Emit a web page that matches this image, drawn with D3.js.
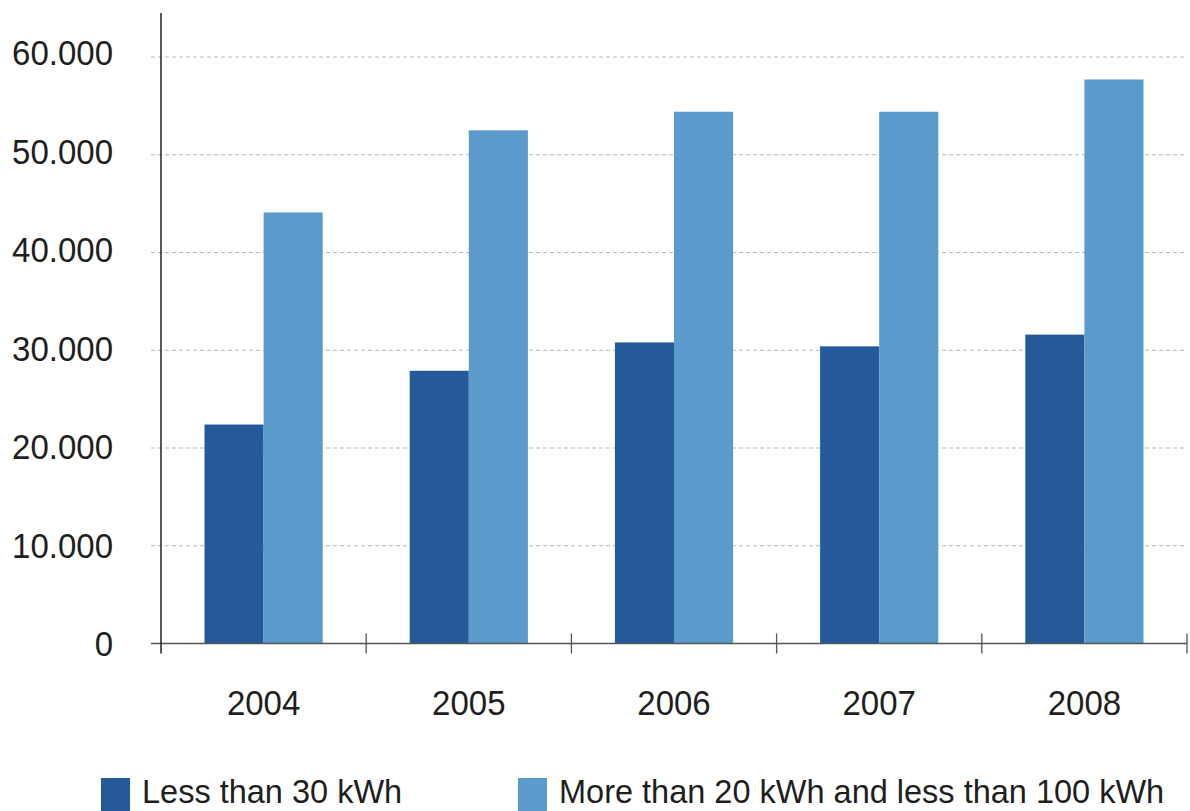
<!DOCTYPE html>
<html>
<head>
<meta charset="utf-8">
<script src="https://cdn.jsdelivr.net/npm/d3@7/dist/d3.min.js"></script>
<style>
  html, body { margin: 0; padding: 0; background: #ffffff; }
  svg { display: block; }
  text { font-family: "Liberation Sans", Arial, sans-serif; fill: #1e1e1e; }
</style>
</head>
<body>
<svg id="chart" width="1190" height="811"></svg>
<script>
// Data
const years = ["2004", "2005", "2006", "2007", "2008"];
const seriesNames = ["Less than 30 kWh", "More than 20 kWh and less than 100 kWh"];
const lessThan30 = [22400, 27900, 30800, 30400, 31600];
const from20To100 = [44100, 52500, 54400, 54400, 57700];
const yTicks = [0, 10000, 20000, 30000, 40000, 50000, 60000];
const seriesColors = ["#245a99", "#5b9bcc"];

const seriesValues = [lessThan30, from20To100];

const svg = d3.select("#chart");
const W = 1190, H = 811;
svg.append("rect").attr("width", W).attr("height", H).attr("fill", "#ffffff");

const plot = { left: 161, right: 1187, top: 13, bottom: 643.5 };

const x0 = d3.scaleBand().domain(years).range([plot.left, plot.right]).padding(0);
const bw = x0.bandwidth();
const groupPad = bw * 0.212;
const x1 = d3.scaleBand().domain(d3.range(seriesNames.length)).range([groupPad, bw - groupPad]).padding(0);
const y = d3.scaleLinear().domain([0, 60000]).range([plot.bottom, 57]);

// dashed gridlines
svg.append("g")
  .selectAll("line")
  .data(yTicks.filter(d => d > 0))
  .join("line")
  .attr("x1", 151).attr("x2", plot.right)
  .attr("y1", d => y(d)).attr("y2", d => y(d))
  .attr("stroke", "#b9b9b9")
  .attr("stroke-width", 1)
  .attr("stroke-dasharray", "4,3");

// bars
const groups = svg.append("g")
  .selectAll("g")
  .data(years)
  .join("g")
  .attr("transform", d => `translate(${x0(d)},0)`);

groups.selectAll("rect")
  .data((yr, i) => seriesValues.map((vals, s) => ({ s, v: vals[i] })))
  .join("rect")
  .attr("x", d => x1(d.s))
  .attr("width", x1.bandwidth())
  .attr("y", d => y(d.v))
  .attr("height", d => y(0) - y(d.v))
  .attr("fill", d => seriesColors[d.s]);

// x axis line with ticks at band boundaries
svg.append("line")
  .attr("x1", 151).attr("x2", plot.right)
  .attr("y1", plot.bottom).attr("y2", plot.bottom)
  .attr("stroke", "#555555").attr("stroke-width", 1.3);

const boundaries = years.map(d => x0(d)).concat([plot.right]);
svg.append("g")
  .selectAll("line")
  .data(boundaries.slice(1))
  .join("line")
  .attr("x1", d => d).attr("x2", d => d)
  .attr("y1", plot.bottom - 10).attr("y2", plot.bottom + 10)
  .attr("stroke", "#555555").attr("stroke-width", 1.3);

// y axis line
svg.append("line")
  .attr("x1", plot.left).attr("x2", plot.left)
  .attr("y1", plot.top).attr("y2", plot.bottom + 10)
  .attr("stroke", "#222222").attr("stroke-width", 1.5);

// y tick labels
const fmt = d => d === 0 ? "0" : d3.format(",")(d).replace(/,/g, ".");
svg.append("g")
  .selectAll("text")
  .data(yTicks)
  .join("text")
  .attr("transform", d => `translate(113,${y(d) - (d / 60000) * 4.5 + 12.5}) scale(1,1.06)`)
  .attr("text-anchor", "end")
  .attr("font-size", 33)
  .text(fmt);

// x tick labels
svg.append("g")
  .selectAll("text")
  .data(years)
  .join("text")
  .attr("transform", d => `translate(${x0(d) + bw / 2},715) scale(1,1.06)`)
  .attr("text-anchor", "middle")
  .attr("font-size", 33)
  .text(d => d);

// legend
const legendX = [101, 518];
const legend = svg.append("g")
  .selectAll("g")
  .data(seriesNames)
  .join("g")
  .attr("transform", (d, i) => `translate(${legendX[i]},778)`);
legend.append("rect")
  .attr("width", 29).attr("height", 33)
  .attr("fill", (d, i) => seriesColors[i]);
legend.append("text")
  .attr("x", 41)
  .attr("y", 25)
  .attr("font-size", 32.5)
  .text(d => d);
</script>
</body>
</html>
